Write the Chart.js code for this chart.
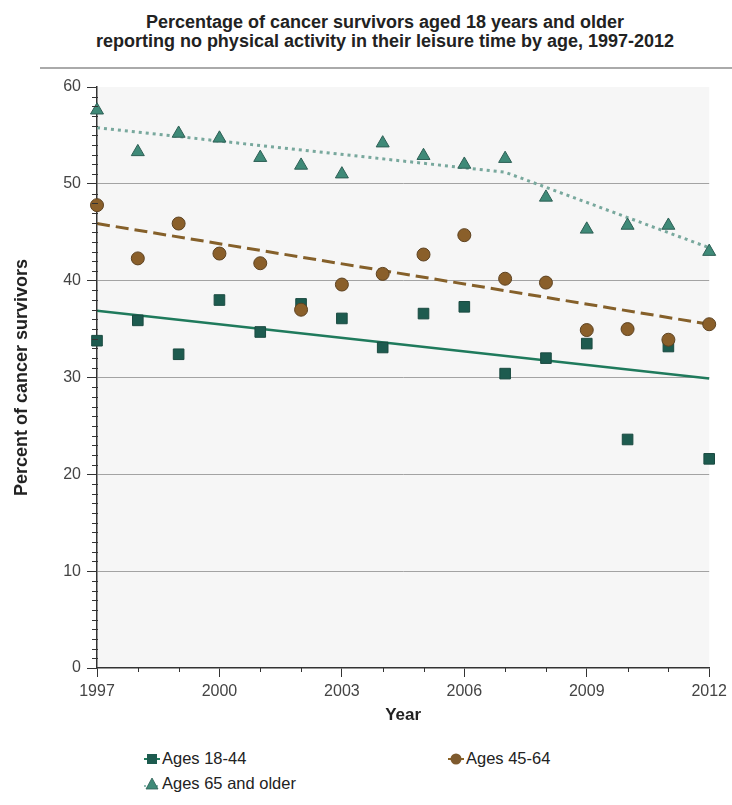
<!DOCTYPE html>
<html>
<head>
<meta charset="utf-8">
<title>Cancer survivors - no leisure-time physical activity</title>
<script src="https://cdn.jsdelivr.net/npm/chart.js@4.4.1/dist/chart.umd.min.js"></script>
<style>
  body { margin: 0; background: #fff; font-family: Arial, "Liberation Sans", sans-serif; }
  #wrap { position: relative; width: 732px; height: 805px; overflow: hidden; background: #fff; }
  #title { position: absolute; left: 38px; top: 13px; width: 694px; text-align: center;
           font-weight: bold; font-size: 18px; line-height: 19px; color: #222; }
  #rule { position: absolute; left: 40px; right: 0; top: 67px; height: 2px; background: #aaa; }
  #chart { position: absolute; left: 0; top: 0; }
  .legend-item { position: absolute; font-size: 16.5px; color: #222; display: flex; align-items: center; white-space: nowrap; }
  .legend-item svg { margin-right: 2px; }
</style>
</head>
<body>
<div id="wrap">
  <div id="title">Percentage of cancer survivors aged 18 years and older<br>reporting no physical activity in their leisure time by age, 1997-2012</div>
  <div id="rule"></div>
  <canvas id="chart" width="732" height="730"></canvas>
  <div class="legend-item" style="left:144px; top:749px;">
    <svg width="16" height="14"><line x1="0" y1="7" x2="16" y2="7" stroke="#1f7a5c" stroke-width="2"/><rect x="3" y="2" width="10" height="10" fill="#1d5b4f"/></svg>Ages 18-44
  </div>
  <div class="legend-item" style="left:448px; top:749px;">
    <svg width="16" height="14"><line x1="0" y1="7" x2="16" y2="7" stroke="#8a6226" stroke-width="2"/><circle cx="8" cy="7" r="5.5" fill="#7e5a2e"/></svg>Ages 45-64
  </div>
  <div class="legend-item" style="left:144px; top:774px;">
    <svg width="16" height="14"><line x1="0" y1="9" x2="16" y2="9" stroke="#8fbcb2" stroke-width="2" stroke-dasharray="2,2"/><polygon points="8,1 14,12 2,12" fill="#3f8a78" stroke="#2d5f55" stroke-width="0.8"/></svg>Ages 65 and older
  </div>
</div>
<script>
// --- data ---

const years = [1997, 1998, 1999, 2000, 2001, 2002, 2003, 2004, 2005, 2006, 2007, 2008, 2009, 2010, 2011, 2012];
const ages18to44 = [33.8, 35.9, 32.4, 38.0, 34.7, 37.6, 36.1, 33.1, 36.6, 37.3, 30.4, 32.0, 33.5, 23.6, 33.2, 21.6];
const ages45to64 = [47.8, 42.3, 45.9, 42.8, 41.8, 37.0, 39.6, 40.7, 42.7, 44.7, 40.2, 39.8, 34.9, 35.0, 33.9, 35.5];
const ages65plus = [57.6, 53.3, 55.2, 54.7, 52.7, 51.9, 51.0, 54.2, 52.9, 52.0, 52.6, 48.6, 45.3, 45.7, 45.7, 43.0];

// fitted trend lines (joinpoints)
const trend18Years = [1997, 2012];
const trend18Values = [36.9, 29.9];
const trend45Years = [1997, 2012];
const trend45Values = [45.9, 35.5];
const trend65Years = [1997, 2007, 2012];
const trend65Values = [55.8, 51.2, 43.4];

const xTickLabels = [1997, 2000, 2003, 2006, 2009, 2012];
const yTickLabels = [0, 10, 20, 30, 40, 50, 60];

function toPoints(xs, ys) {
  return xs.map(function (x, i) {
    return { x: x, y: ys[i] };
  });
}

// --- plugin: plot background and minor tick marks ---

const plotDecor = {
  id: "plotDecor",
  beforeDraw(chart) {
    const ctx = chart.ctx;
    const a = chart.chartArea;
    ctx.save();
    ctx.fillStyle = "#f6f6f6";
    ctx.fillRect(a.left, a.top, a.right - a.left, a.bottom - a.top);
    ctx.restore();
  },
  afterDraw(chart) {
    const ctx = chart.ctx;
    const xs = chart.scales.x;
    const ys = chart.scales.y;
    const a = chart.chartArea;
    ctx.save();
    ctx.strokeStyle = "#333";
    ctx.lineWidth = 1;
    ctx.beginPath();
    for (let v = ys.min; v <= ys.max; v++) {
      if (yTickLabels.includes(v)) continue;
      const py = Math.round(ys.getPixelForValue(v)) + 0.5;
      ctx.moveTo(a.left - 5, py);
      ctx.lineTo(a.left + 1, py);
    }
    for (let v = xs.min; v <= xs.max; v++) {
      if (xTickLabels.includes(v)) continue;
      const px = Math.round(xs.getPixelForValue(v)) + 0.5;
      ctx.moveTo(px, a.bottom);
      ctx.lineTo(px, a.bottom + 4);
    }
    ctx.stroke();
    ctx.restore();
  },
};

const FONT = "Arial, 'Liberation Sans', sans-serif";

new Chart(document.getElementById("chart"), {
  type: "scatter",
  data: {
    datasets: [
      {
        label: "Ages 18-44 trend",
        type: "line",
        data: toPoints(trend18Years, trend18Values),
        borderColor: "#1f7a5c",
        borderWidth: 2.5,
        pointRadius: 0,
        fill: false,
        clip: false,
        order: 10,
      },
      {
        label: "Ages 45-64 trend",
        type: "line",
        data: toPoints(trend45Years, trend45Values),
        borderColor: "#85602a",
        borderWidth: 3,
        borderDash: [13, 6],
        pointRadius: 0,
        fill: false,
        clip: false,
        order: 11,
      },
      {
        label: "Ages 65 and older trend",
        type: "line",
        data: toPoints(trend65Years, trend65Values),
        borderColor: "#78a89d",
        borderWidth: 3,
        borderDash: [3, 4],
        pointRadius: 0,
        fill: false,
        clip: false,
        order: 12,
      },
      {
        label: "Ages 18-44",
        data: toPoints(years, ages18to44),
        pointStyle: "rect",
        pointRadius: 7.5,
        backgroundColor: "#1d5b4f",
        borderColor: "#1a4a40",
        borderWidth: 1,
        clip: false,
        order: 3,
      },
      {
        label: "Ages 45-64",
        data: toPoints(years, ages45to64),
        pointStyle: "circle",
        pointRadius: 6.5,
        backgroundColor: "#8a5f2a",
        borderColor: "#5e4322",
        borderWidth: 1,
        clip: false,
        order: 2,
      },
      {
        label: "Ages 65 and older",
        data: toPoints(years, ages65plus),
        pointStyle: "triangle",
        pointRadius: 7.5,
        backgroundColor: "#3f8a78",
        borderColor: "#2d5f55",
        borderWidth: 1,
        clip: false,
        order: 1,
      },
    ],
  },
  options: {
    responsive: false,
    animation: false,
    devicePixelRatio: 1,
    layout: { padding: { top: 87, right: 22, left: 0, bottom: 0 }, autoPadding: false },
    plugins: {
      legend: { display: false },
      tooltip: { enabled: false },
      title: { display: false },
    },
    scales: {
      x: {
        type: "linear",
        min: 1997,
        max: 2012,
        afterBuildTicks: function (scale) {
          scale.ticks = xTickLabels.map(function (v) { return { value: v }; });
        },
        afterFit: function (scale) { scale.height = 62; },
        ticks: {
          callback: function (v) { return String(v); },
          font: { family: FONT, size: 16 },
          color: "#444",
          padding: 5,
          maxRotation: 0,
        },
        grid: { drawOnChartArea: false, drawTicks: true, tickLength: 9, color: "#333", tickColor: "#333" },
        border: { display: true, color: "#333", width: 1.5 },
        title: {
          display: true,
          text: "Year",
          font: { family: FONT, size: 17, weight: "bold" },
          color: "#222",
          padding: { top: 0, bottom: 4 },
        },
      },
      y: {
        type: "linear",
        min: 0,
        max: 60,
        afterBuildTicks: function (scale) {
          scale.ticks = yTickLabels.map(function (v) { return { value: v }; });
        },
        afterFit: function (scale) { scale.width = 97; },
        ticks: {
          font: { family: FONT, size: 16 },
          color: "#444",
          padding: 6,
        },
        grid: {
          drawTicks: true,
          tickLength: 10,
          tickColor: "#333",
          lineWidth: 1,
          color: function (c) {
            const v = c.tick ? c.tick.value : null;
            return v === 0 || v === 60 ? "rgba(0,0,0,0)" : "#a3a3a3";
          },
        },
        border: { display: true, color: "#333", width: 1.5 },
        title: {
          display: true,
          text: "Percent of cancer survivors",
          font: { family: FONT, size: 18, weight: "bold" },
          color: "#222",
          padding: { top: 11, bottom: 0 },
        },
      },
    },
  },
  plugins: [plotDecor],
});
</script>
</body>
</html>
